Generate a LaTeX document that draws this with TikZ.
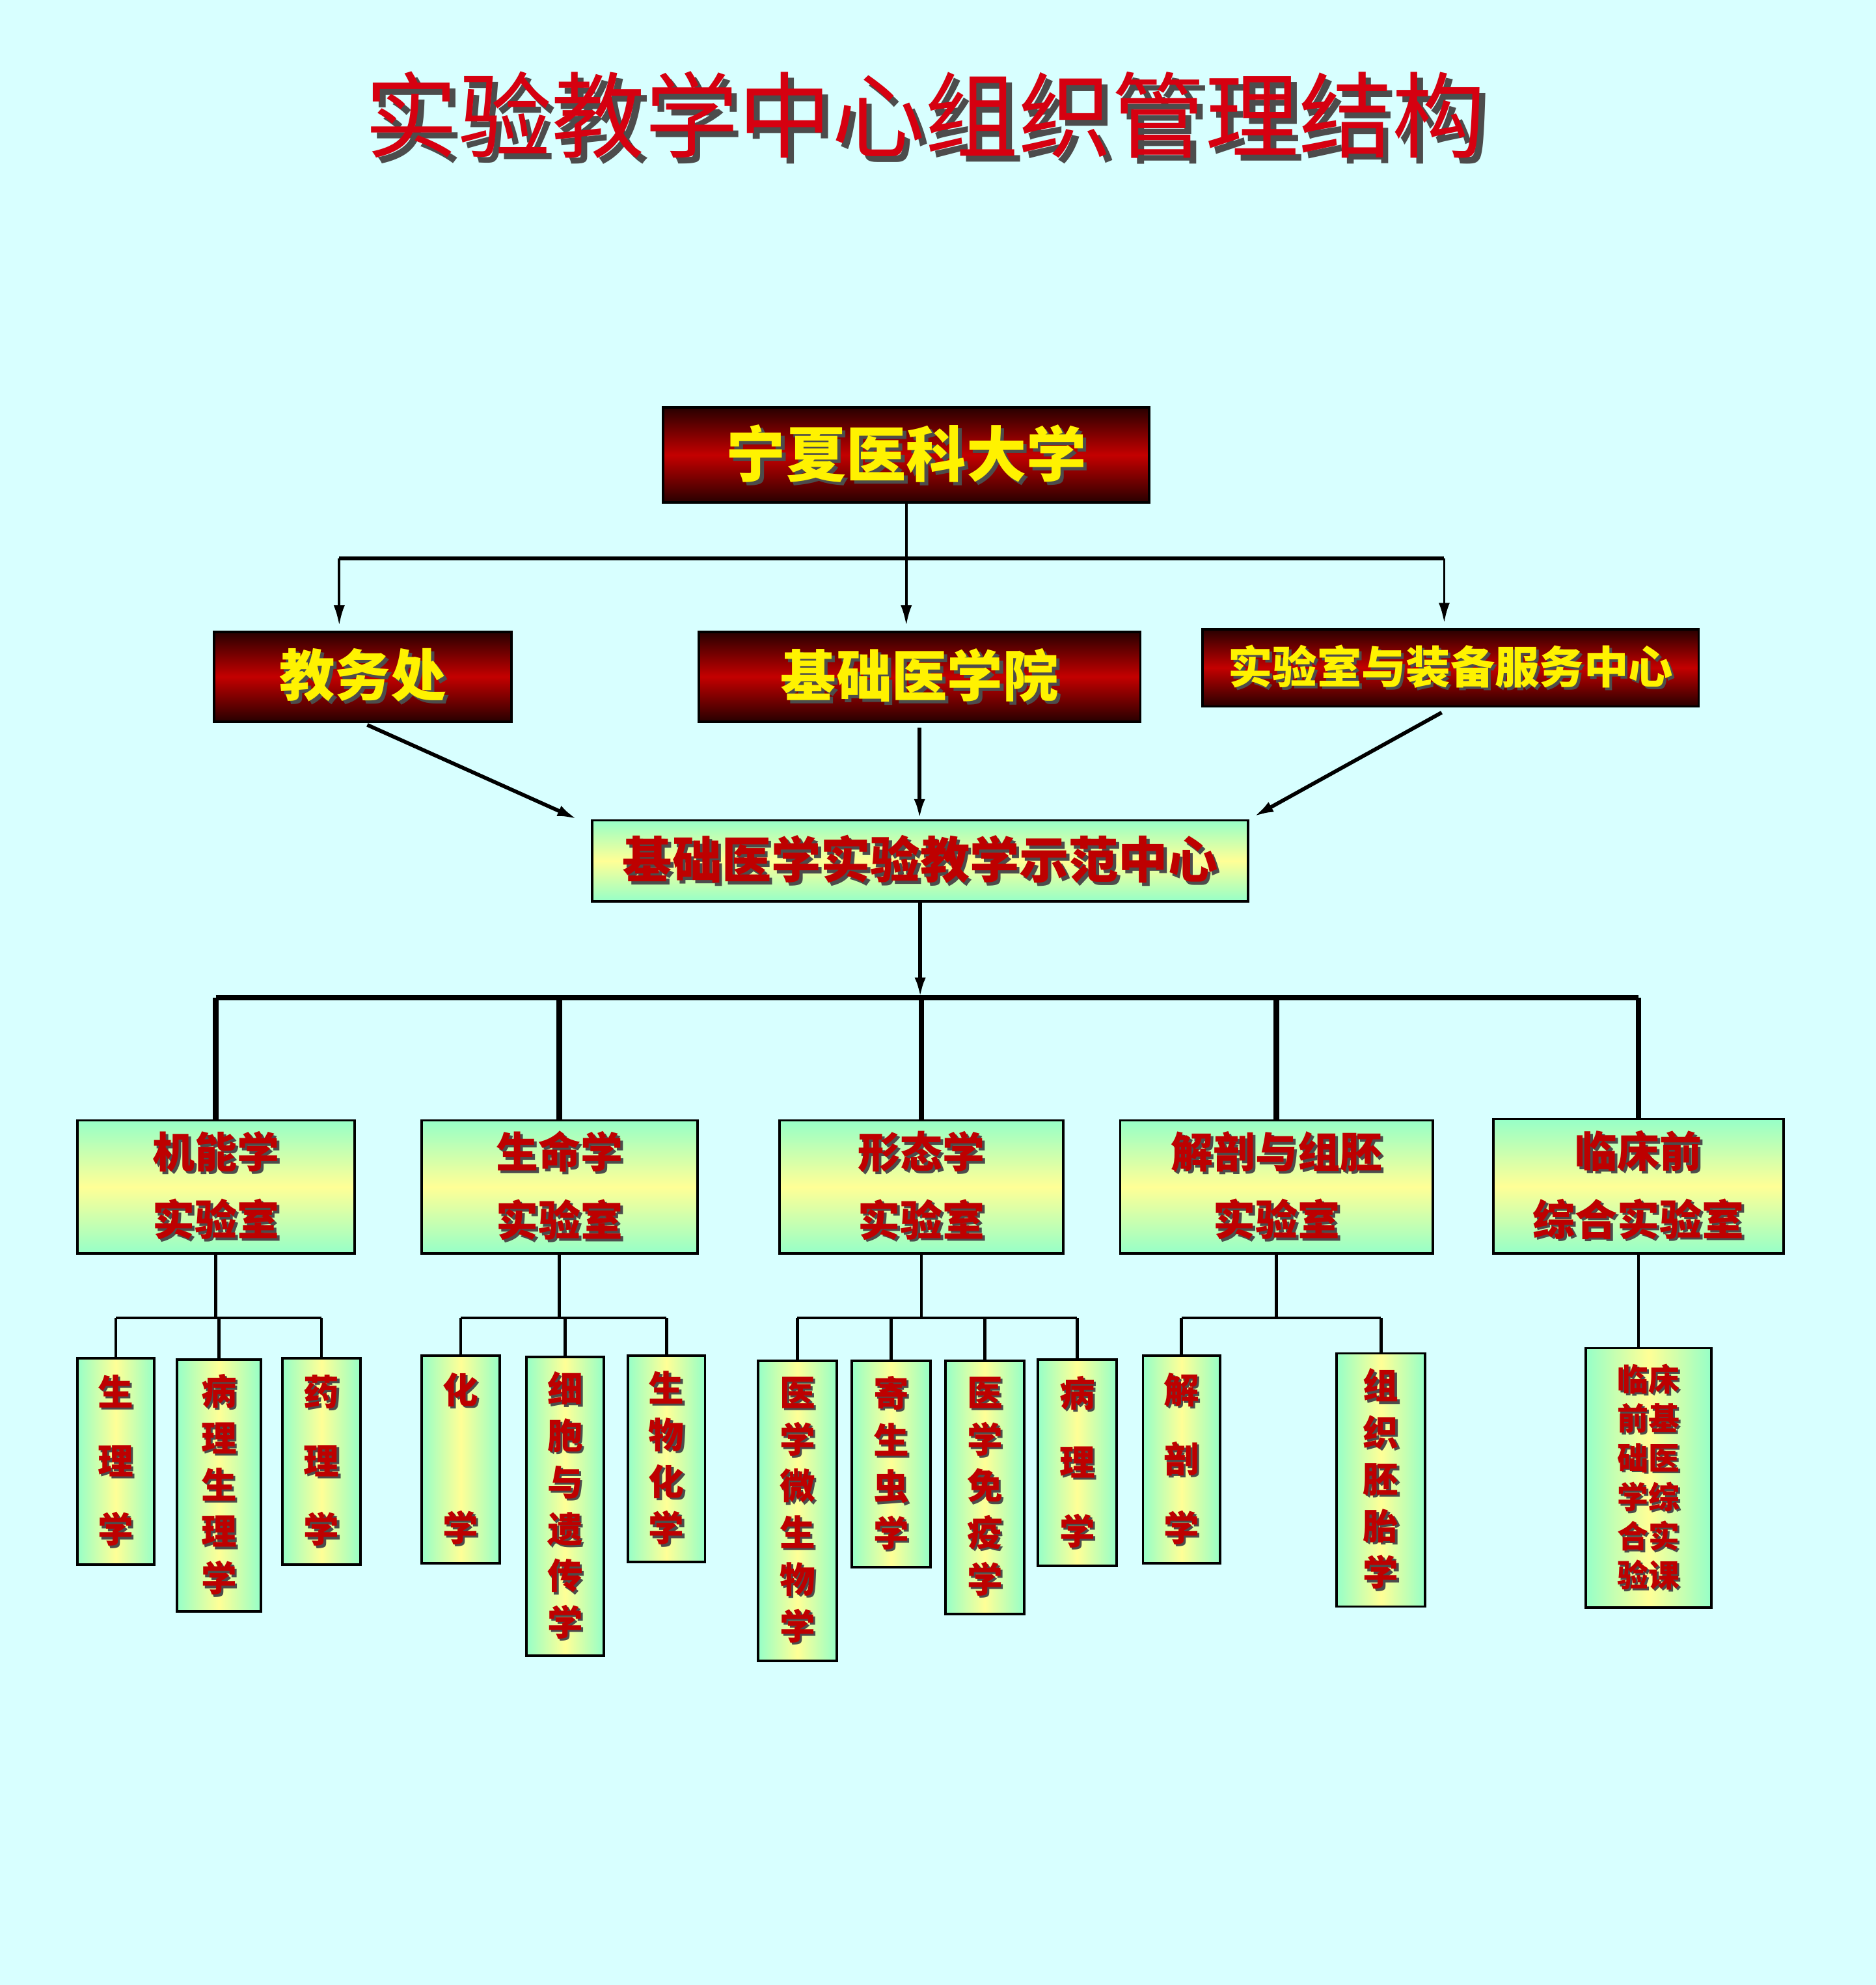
\documentclass[tikz,border=0pt]{standalone}
\usepackage{fontspec}
\setmainfont{Noto Sans CJK SC}
\usetikzlibrary{arrows.meta}
\definecolor{bgcyan}{RGB}{216,255,255}
\definecolor{titlered}{RGB}{214,0,16}
\definecolor{boxred}{RGB}{196,0,0}
\definecolor{darkred}{RGB}{40,0,0}
\definecolor{textred}{RGB}{190,0,0}
\definecolor{paleyellow}{RGB}{255,255,150}
\definecolor{palegreen}{RGB}{150,255,200}
\newlength\pxu
\setlength\pxu{0.02cm}
\newcommand\shd[1]{\leavevmode\rlap{\kern.06em\raisebox{-.06em}{\color{black!70}#1}}#1}

\begin{document}
\begin{tikzpicture}[x=0.02cm, y=0.02cm,
    redbox/.style={draw=black, line width=1.1pt, top color=darkred, bottom color=darkred, middle color=boxred,
        text=yellow, font=\bfseries, inner sep=0pt},
    labbox/.style={draw=black, line width=1.1pt, top color=palegreen, bottom color=palegreen, middle color=paleyellow,
        text=textred, font=\bfseries, inner sep=0pt, align=center},
    leafbox/.style={draw=black, line width=1.1pt, left color=palegreen, right color=palegreen, middle color=paleyellow,
        text=textred, inner sep=0pt, align=center, font=\bfseries\fontsize{16}{21}\selectfont},
    arr/.style={-{Latex[length=9pt,width=5pt]}},
    thinline/.style={line width=1.1pt},
    slant/.style={line width=1.7pt},
    bar/.style={line width=2.5pt},
    twig/.style={line width=1.4pt}]
    \fill[bgcyan] (0,0) rectangle (1482,-1568);
    \useasboundingbox (0,0) rectangle (1482,-1568);

    \node[text=titlered] (title) at (731,-93) {\fontsize{42}{42}\selectfont\shd{实验教学中心组织管理结构}};

    \node[redbox, minimum width=384\pxu, minimum height=75\pxu] (uni) at (716,-359.5) {\fontsize{27}{27}\selectfont\shd{宁夏医科大学}};
    \node[redbox, minimum width=235\pxu, minimum height=71\pxu] (jwc) at (286.5,-534.5) {\fontsize{25}{25}\selectfont\shd{教务处}};
    \node[redbox, minimum width=349\pxu, minimum height=71\pxu] (jcyxy) at (726.5,-534.5) {\fontsize{25}{25}\selectfont\shd{基础医学院}};
    \node[redbox, minimum width=392\pxu, minimum height=61\pxu] (sys) at (1146,-527.5) {\fontsize{20}{20}\selectfont\shd{实验室与装备服务中心}};

    \node[labbox, minimum width=518\pxu, minimum height=64\pxu] (ctr) at (727,-680) {\fontsize{22.3}{22.3}\selectfont\shd{基础医学实验教学示范中心}};

    \node[labbox, minimum width=219\pxu, minimum height=105\pxu, font=\bfseries\fontsize{19}{30.6}\selectfont] (jn) at (170.5,-937.5) {\shd{机能学}\\\shd{实验室}};
    \node[labbox, minimum width=218\pxu, minimum height=105\pxu, font=\bfseries\fontsize{19}{30.6}\selectfont] (smx) at (442,-937.5) {\shd{生命学}\\\shd{实验室}};
    \node[labbox, minimum width=224\pxu, minimum height=105\pxu, font=\bfseries\fontsize{19}{30.6}\selectfont] (xtx) at (728,-937.5) {\shd{形态学}\\\shd{实验室}};
    \node[labbox, minimum width=247\pxu, minimum height=105\pxu, font=\bfseries\fontsize{19}{30.6}\selectfont] (jp) at (1008.5,-937.5) {\shd{解剖与组胚}\\\shd{实验室}};
    \node[labbox, minimum width=229\pxu, minimum height=106\pxu, font=\bfseries\fontsize{19}{30.6}\selectfont] (lc) at (1294.5,-937) {\shd{临床前}\\\shd{综合实验室}};

    \node[leafbox, minimum width=61\pxu, minimum height=163\pxu] (sl) at (91.5,-1154.5) {\shd{生}\\[10pt]\shd{理}\\[10pt]\shd{学}};
    \node[leafbox, minimum width=66\pxu, minimum height=199\pxu] (blsl) at (173,-1173.5) {\shd{病}\\\shd{理}\\\shd{生}\\\shd{理}\\\shd{学}};
    \node[leafbox, minimum width=62\pxu, minimum height=163\pxu] (yl) at (254,-1154.5) {\shd{药}\\[10pt]\shd{理}\\[10pt]\shd{学}};
    \node[leafbox, minimum width=62\pxu, minimum height=164\pxu] (hx) at (364,-1153) {\shd{化}\\[41pt]\shd{学}};
    \node[leafbox, minimum width=61\pxu, minimum height=236\pxu] (xb) at (446.5,-1190) {\shd{细}\\\shd{胞}\\\shd{与}\\\shd{遗}\\\shd{传}\\\shd{学}};
    \node[leafbox, minimum width=61\pxu, minimum height=163\pxu] (swhx) at (526.5,-1152.5) {\shd{生}\\\shd{物}\\\shd{化}\\\shd{学}};
    \node[leafbox, minimum width=62\pxu, minimum height=237\pxu] (ywsw) at (630,-1193.5) {\shd{医}\\\shd{学}\\\shd{微}\\\shd{生}\\\shd{物}\\\shd{学}};
    \node[leafbox, minimum width=62\pxu, minimum height=163\pxu] (jsc) at (704,-1156.5) {\shd{寄}\\\shd{生}\\\shd{虫}\\\shd{学}};
    \node[leafbox, minimum width=62\pxu, minimum height=200\pxu] (yxmy) at (778,-1175) {\shd{医}\\\shd{学}\\\shd{免}\\\shd{疫}\\\shd{学}};
    \node[leafbox, minimum width=62\pxu, minimum height=163\pxu] (bl) at (851,-1155.5) {\shd{病}\\[10pt]\shd{理}\\[10pt]\shd{学}};
    \node[leafbox, minimum width=61\pxu, minimum height=164\pxu] (jpx) at (933.5,-1153) {\shd{解}\\[10pt]\shd{剖}\\[10pt]\shd{学}};
    \node[leafbox, minimum width=70\pxu, minimum height=200\pxu] (zpt) at (1091,-1169) {\shd{组}\\\shd{织}\\\shd{胚}\\\shd{胎}\\\shd{学}};
    \node[leafbox, minimum width=99\pxu, minimum height=205\pxu, font=\bfseries\fontsize{14}{17.6}\selectfont] (lcjc) at (1302.5,-1167.5)
        {\shd{临床}\\\shd{前基}\\\shd{础医}\\\shd{学综}\\\shd{合实}\\\shd{验课}};

    \coordinate (a1) at (268,-441);
    \coordinate (a3) at (1141,-441);
    \coordinate (b2) at (0,-788);
    \coordinate (b3) at (0,-1041);

    \draw[thinline, arr, shorten >=4\pxu] (uni.south) -- (uni.south |- jcyxy.north);
    \draw[slant] (a1) -- (a3);
    \draw[thinline, arr, shorten >=4\pxu] (a1) -- (a1 |- jwc.north);
    \draw[thinline, arr, shorten >=4\pxu] (a3) -- (a3 |- sys.north);

    \draw[slant, arr, shorten <=4\pxu] (jwc.south) -- ([xshift=-11\pxu]ctr.north west);
    \draw[slant, arr, shorten <=4\pxu] (jcyxy.south) -- (jcyxy.south |- ctr.north);
    \draw[slant, arr, shorten <=8\pxu, shorten >=4\pxu] (sys.south) -- (ctr.north east);

    \draw[slant, arr] (ctr.south) -- (ctr.south |- b2);
    \draw[bar] (jn.north |- b2) -- (lc.north |- b2);
    \foreach \n in {jn,smx,xtx,jp,lc}
        \draw[bar] (\n.north |- b2) -- (\n.north);

    \foreach \p/\a/\b in {jn/sl/yl, smx/hx/swhx, xtx/ywsw/bl, jp/jpx/zpt} {
        \draw[twig] (\p.south) -- (\p.south |- b3);
        \draw[twig] (\a.north |- b3) -- (\b.north |- b3);
    }
    \foreach \n in {sl,blsl,yl,hx,xb,swhx,ywsw,jsc,yxmy,bl,jpx,zpt}
        \draw[twig] (\n.north |- b3) -- (\n.north);
    \draw[twig] (lc.south) -- (lc.south |- lcjc.north);
\end{tikzpicture}
\end{document}
